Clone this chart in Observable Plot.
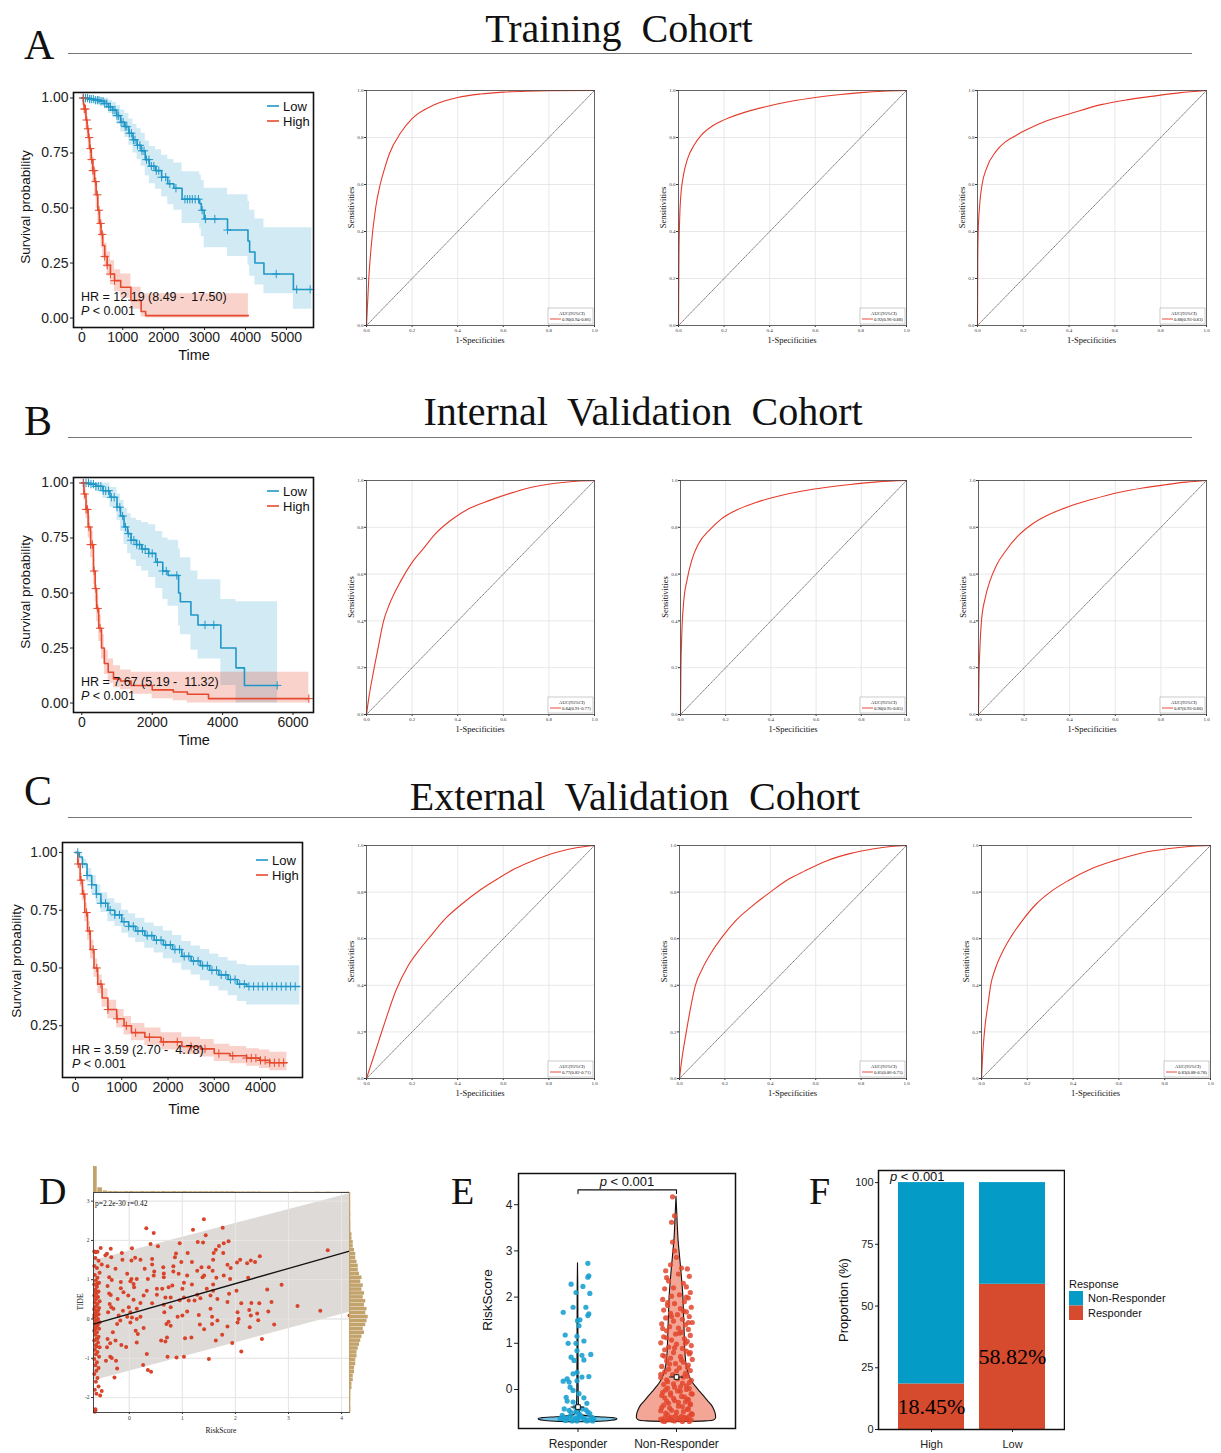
<!DOCTYPE html>
<html><head><meta charset="utf-8">
<script src="https://cdn.jsdelivr.net/npm/d3@7"></script>
<script src="https://cdn.jsdelivr.net/npm/@observablehq/plot@0.6"></script>
<style>
body{margin:0;background:#fff;}
#root{position:relative;width:1221px;height:1453px;overflow:hidden;background:#fff;}
</style></head>
<body><div id="root"></div>
<script>
// ---------------- DATA ----------------
// Kaplan-Meier rows: [time, survival, lower CI, upper CI]
const trainLow = [[0,1,1,1],[150,0.995,0.985,1],[300,0.99,0.975,1],[450,0.985,0.965,1],[550,0.975,0.95,1],[650,0.96,0.93,0.99],[750,0.945,0.91,0.98],[850,0.92,0.88,0.965],[950,0.89,0.845,0.945],[1050,0.87,0.82,0.93],[1150,0.84,0.785,0.905],[1250,0.81,0.75,0.88],[1350,0.785,0.72,0.86],[1450,0.76,0.69,0.84],[1550,0.72,0.645,0.805],[1650,0.69,0.61,0.78],[1800,0.67,0.585,0.765],[1950,0.64,0.55,0.74],[2100,0.61,0.515,0.72],[2250,0.59,0.49,0.705],[2450,0.54,0.43,0.665],[2880,0.52,0.405,0.65],[2920,0.49,0.37,0.625],[2990,0.45,0.32,0.59],[3560,0.40,0.28,0.56],[4060,0.35,0.24,0.53],[4100,0.30,0.19,0.49],[4230,0.25,0.15,0.45],[4450,0.20,0.11,0.41],[5170,0.13,0.04,0.41],[5620,0.13,0.04,0.41]];
const trainHigh = [[0,1,1,1],[40,0.97,0.95,0.99],[60,0.95,0.92,0.98],[100,0.9,0.86,0.94],[130,0.86,0.82,0.91],[160,0.82,0.77,0.87],[190,0.77,0.72,0.82],[230,0.72,0.67,0.77],[270,0.67,0.62,0.73],[310,0.62,0.56,0.68],[350,0.56,0.5,0.62],[390,0.49,0.43,0.55],[430,0.43,0.37,0.49],[470,0.38,0.32,0.44],[510,0.33,0.27,0.39],[560,0.28,0.23,0.34],[620,0.24,0.19,0.30],[700,0.2,0.15,0.26],[800,0.17,0.12,0.22],[950,0.14,0.09,0.2],[1200,0.08,0.04,0.14],[1450,0.03,0.005,0.11],[1560,0.011,0,0.11],[4070,0.011,0,0.11]];
const trainLowCens = [40,90,140,190,230,280,330,380,420,470,520,560,610,660,700,760,810,860,900,960,1010,1060,1100,1160,1210,1260,1300,1360,1420,1470,1520,1580,1640,1700,1760,1820,1880,1950,2050,2150,2300,2520,2580,2640,2700,2770,2850,2940,3020,3250,3560,4750,5250,5580];
const trainHighCens = [30,60,90,120,150,180,210,240,270,300,340,380,420,460,500,560,620,700,800];

const intLow = [[0,1,1,1],[200,0.995,0.985,1],[400,0.985,0.96,1],[600,0.965,0.93,1],[800,0.935,0.89,0.98],[1000,0.89,0.83,0.95],[1100,0.85,0.78,0.92],[1200,0.8,0.72,0.885],[1300,0.77,0.68,0.86],[1400,0.74,0.65,0.84],[1550,0.72,0.62,0.83],[1700,0.7,0.6,0.82],[1900,0.68,0.57,0.81],[2100,0.64,0.52,0.78],[2300,0.6,0.47,0.75],[2450,0.58,0.44,0.74],[2750,0.5,0.35,0.7],[2800,0.46,0.31,0.66],[3100,0.4,0.24,0.6],[3300,0.355,0.2,0.56],[3950,0.25,0.08,0.47],[4380,0.16,0,0.46],[4620,0.08,0,0.46],[5560,0.08,0,0.46]];
const intHigh = [[0,1,1,1],[60,0.95,0.92,0.98],[120,0.88,0.84,0.92],[180,0.8,0.75,0.85],[250,0.72,0.66,0.78],[330,0.6,0.54,0.66],[380,0.52,0.46,0.58],[420,0.43,0.37,0.49],[480,0.34,0.28,0.4],[560,0.25,0.2,0.31],[640,0.18,0.13,0.24],[750,0.14,0.09,0.2],[900,0.11,0.07,0.17],[1100,0.1,0.06,0.15],[1400,0.08,0.04,0.14],[2000,0.06,0.02,0.14],[2600,0.05,0.01,0.14],[3000,0.04,0,0.14],[3600,0.02,0,0.14],[6450,0.02,0,0.14]];
const intLowCens = [50,120,190,260,330,400,470,540,610,680,760,840,920,1000,1080,1160,1240,1320,1400,1480,1560,1640,1720,1800,1900,2000,2150,2300,2400,2700,3500,3750,5550];
const intHighCens = [40,80,120,160,200,250,300,350,400,450,520,6450];

const extLow = [[0,1,1,1],[80,0.98,0.965,0.995],[150,0.95,0.93,0.97],[250,0.9,0.87,0.93],[350,0.86,0.82,0.9],[450,0.82,0.78,0.86],[550,0.78,0.74,0.825],[700,0.75,0.7,0.8],[850,0.73,0.68,0.78],[1000,0.7,0.65,0.75],[1150,0.68,0.63,0.735],[1300,0.66,0.61,0.715],[1500,0.64,0.585,0.695],[1700,0.62,0.565,0.68],[1900,0.6,0.54,0.66],[2100,0.58,0.52,0.64],[2300,0.55,0.49,0.615],[2500,0.53,0.47,0.595],[2700,0.51,0.445,0.58],[2900,0.49,0.42,0.56],[3100,0.47,0.4,0.545],[3300,0.45,0.38,0.53],[3500,0.43,0.355,0.515],[3700,0.42,0.34,0.51],[4850,0.42,0.34,0.51]];
const extHigh = [[0,1,1,1],[50,0.95,0.93,0.97],[100,0.88,0.85,0.91],[150,0.82,0.79,0.85],[200,0.74,0.7,0.78],[260,0.66,0.62,0.7],[320,0.58,0.54,0.62],[400,0.5,0.46,0.54],[480,0.43,0.39,0.47],[575,0.37,0.33,0.41],[700,0.32,0.28,0.36],[890,0.28,0.24,0.32],[1050,0.25,0.21,0.29],[1210,0.22,0.185,0.26],[1500,0.2,0.165,0.24],[1850,0.18,0.145,0.22],[2300,0.16,0.125,0.2],[2700,0.15,0.115,0.19],[3000,0.13,0.095,0.17],[3340,0.12,0.085,0.16],[3700,0.11,0.075,0.15],[3980,0.1,0.065,0.145],[4200,0.09,0.055,0.135],[4570,0.09,0.055,0.135]];
const extLowCens = [50,150,250,350,450,550,650,750,850,950,1050,1150,1250,1350,1450,1550,1650,1750,1850,1950,2050,2150,2250,2350,2450,2550,2650,2750,2850,2950,3050,3150,3250,3350,3450,3550,3650,3750,3850,3950,4050,4150,4250,4350,4450,4550,4650,4750];
const extHighCens = [60,120,180,240,300,380,460,550,700,900,1100,1300,1600,1900,2200,2500,2800,3100,3400,3700,3800,3900,4000,4100,4200,4300,4400,4500];

const hrTexts = ["HR = 12.19 (8.49 -  17.50)", "HR = 7.67 (5.19 -  11.32)", "HR = 3.59 (2.70 -  4.78)"];
const kmTicksY = [0, 0.25, 0.5, 0.75, 1];

// ROC points: [1-specificity, sensitivity]
const rocTrain1 = [[0,0],[0.01,0.2],[0.02,0.33],[0.04,0.5],[0.06,0.6],[0.08,0.67],[0.1,0.73],[0.15,0.82],[0.2,0.88],[0.3,0.94],[0.4,0.97],[0.5,0.985],[0.6,0.993],[0.7,0.997],[0.8,0.999],[1,1]];
const rocTrain2 = [[0,0],[0.002,0.3],[0.005,0.45],[0.01,0.55],[0.02,0.63],[0.04,0.71],[0.07,0.77],[0.1,0.81],[0.15,0.85],[0.2,0.875],[0.3,0.91],[0.4,0.935],[0.5,0.955],[0.6,0.97],[0.7,0.982],[0.8,0.991],[0.9,0.997],[1,1]];
const rocTrain3 = [[0,0],[0.001,0.25],[0.003,0.4],[0.01,0.52],[0.02,0.6],[0.04,0.67],[0.08,0.74],[0.12,0.78],[0.17,0.81],[0.23,0.84],[0.3,0.87],[0.4,0.9],[0.54,0.94],[0.65,0.96],[0.76,0.975],[0.88,0.99],[1,1]];
const rocInt1 = [[0,0],[0.01,0.07],[0.03,0.18],[0.05,0.28],[0.075,0.4],[0.1,0.47],[0.15,0.57],[0.2,0.65],[0.25,0.71],[0.3,0.77],[0.37,0.83],[0.45,0.88],[0.54,0.915],[0.63,0.945],[0.72,0.97],[0.82,0.987],[0.92,0.997],[1,1]];
const rocInt2 = [[0,0],[0.002,0.2],[0.005,0.32],[0.013,0.47],[0.03,0.58],[0.05,0.66],[0.08,0.73],[0.13,0.79],[0.18,0.835],[0.24,0.87],[0.33,0.905],[0.44,0.935],[0.54,0.955],[0.64,0.97],[0.75,0.983],[0.87,0.994],[1,1]];
const rocInt3 = [[0,0],[0.002,0.15],[0.006,0.28],[0.013,0.4],[0.03,0.5],[0.05,0.57],[0.08,0.64],[0.12,0.7],[0.17,0.76],[0.23,0.81],[0.3,0.85],[0.4,0.89],[0.5,0.92],[0.62,0.95],[0.72,0.968],[0.82,0.982],[0.91,0.993],[1,1]];
const rocExt1 = [[0,0],[0.02,0.06],[0.05,0.15],[0.08,0.24],[0.13,0.38],[0.18,0.48],[0.23,0.55],[0.28,0.61],[0.35,0.69],[0.42,0.75],[0.5,0.81],[0.58,0.86],[0.65,0.9],[0.73,0.935],[0.83,0.97],[0.92,0.99],[1,1]];
const rocExt2 = [[0,0],[0.01,0.08],[0.03,0.2],[0.05,0.31],[0.07,0.4],[0.1,0.47],[0.14,0.54],[0.19,0.61],[0.25,0.68],[0.32,0.74],[0.4,0.8],[0.48,0.855],[0.55,0.89],[0.65,0.935],[0.75,0.965],[0.85,0.985],[0.93,0.996],[1,1]];
const rocExt3 = [[0,0],[0.005,0.1],[0.015,0.22],[0.03,0.33],[0.04,0.4],[0.06,0.47],[0.09,0.54],[0.13,0.61],[0.18,0.68],[0.24,0.75],[0.3,0.8],[0.38,0.85],[0.48,0.9],[0.58,0.935],[0.7,0.968],[0.82,0.987],[0.92,0.997],[1,1]];
const rocDiag = [[0,0],[1,1]];
const rocTicks = [0,0.2,0.4,0.6,0.8,1];
const aucTrain = ["0.90(0.94-0.86)","0.92(0.96-0.88)","0.88(0.93-0.83)"];
const aucInt = ["0.84(0.91-0.77)","0.90(0.95-0.85)","0.87(0.93-0.80)"];
const aucExt = ["0.77(0.82-0.71)","0.81(0.86-0.75)","0.83(0.88-0.78)"];

// Panel D: [RiskScore, TIDE]
const tideCluster = [[-0.66,1.72],[-0.63,1.7],[-0.6,1.71],[-0.64,1.55],[-0.58,1.48],[-0.66,1.35],[-0.61,1.3],[-0.56,1.18],[-0.65,1.12],[-0.6,1.05],[-0.63,0.98],[-0.57,0.92],[-0.66,0.88],[-0.61,0.82],[-0.64,0.75],[-0.58,0.7],[-0.62,0.65],[-0.66,0.6],[-0.59,0.56],[-0.63,0.5],[-0.56,0.45],[-0.65,0.42],[-0.6,0.38],[-0.63,0.32],[-0.57,0.28],[-0.66,0.24],[-0.61,0.2],[-0.64,0.15],[-0.58,0.12],[-0.62,0.08],[-0.66,0.04],[-0.59,0.0],[-0.63,-0.04],[-0.56,-0.08],[-0.65,-0.12],[-0.6,-0.16],[-0.63,-0.2],[-0.57,-0.25],[-0.66,-0.3],[-0.61,-0.34],[-0.64,-0.4],[-0.58,-0.45],[-0.62,-0.5],[-0.66,-0.55],[-0.59,-0.6],[-0.63,-0.66],[-0.56,-0.72],[-0.65,-0.78],[-0.6,-0.84],[-0.63,-0.9],[-0.57,-0.96],[-0.66,-1.02],[-0.61,-1.1],[-0.64,-1.18],[-0.58,-1.25],[-0.62,-1.32],[-0.66,-1.4],[-0.6,-1.5],[-0.63,-1.6],[-0.58,-1.72],[-0.65,-1.8],[-0.62,-1.9],[-0.55,-1.95],[-0.64,-2.32],[-0.62,0.55],[-0.65,0.3],[-0.59,0.22],[-0.64,-0.25],[-0.6,-0.5],[-0.58,-0.1],[-0.66,0.1],[-0.62,-0.7],[-0.64,0.7],[-0.6,0.9]];
const tideScatter = [[1.405,2.54],[1.76,2.32],[1.2,2.27],[0.32,2.31],[0.46,2.19],[1.44,2.13],[1.87,1.98],[1.78,1.93],[1.29,1.96],[1.39,1.95],[0.95,1.93],[0.4,1.91],[0.54,1.85],[0.05,1.8],[-0.35,1.79],[-0.54,1.81],[1.69,1.86],[1.63,1.76],[3.74,1.75],[1.59,1.68],[1.1,1.68],[0.88,1.67],[0.86,1.57],[1.77,1.68],[-0.14,1.68],[0.11,1.56],[2.46,1.6],[2.29,1.49],[2.09,1.51],[0.43,1.53],[0.04,1.49],[-0.34,1.57],[-0.45,1.62],[-0.13,1.51],[0.21,1.51],[1.58,1.51],[2.37,1.45],[2.22,1.42],[2.03,1.44],[1.18,1.45],[0.98,1.45],[0.43,1.39],[0.64,1.32],[0.83,1.34],[1.36,1.32],[1.5,1.32],[1.85,1.38],[1.91,1.3],[-0.41,1.34],[-0.52,1.39],[0.29,1.28],[-0.26,1.28],[1.28,1.23],[1.57,1.23],[0.47,1.21],[0.65,1.16],[0.83,1.21],[-0.04,1.15],[0.93,1.15],[1.41,1.11],[1.78,1.11],[0.46,1.11],[0.65,1.06],[1.09,1.11],[1.38,1.06],[1.64,1.05],[1.9,1.02],[2.24,1.05],[-0.38,1.06],[0.04,1.02],[0.14,1.02],[0.35,1.02],[-0.33,0.99],[-0.16,0.94],[0.02,0.96],[0.08,0.89],[1.03,0.92],[1.18,0.88],[1.58,0.88],[2.87,0.87],[-0.41,0.84],[-0.16,0.78],[0.09,0.81],[0.52,0.77],[0.62,0.77],[0.74,0.81],[0.81,0.85],[1.0,0.77],[1.46,0.77],[1.58,0.72],[2.02,0.72],[2.6,0.75],[0.33,0.72],[-0.11,0.68],[-0.02,0.6],[0.27,0.6],[0.52,0.62],[0.68,0.55],[0.78,0.55],[1.03,0.55],[1.28,0.62],[1.53,0.6],[1.88,0.64],[1.66,0.51],[-0.35,0.61],[-0.22,0.51],[0.08,0.49],[0.95,0.48],[1.12,0.47],[1.23,0.47],[1.34,0.53],[1.85,0.43],[2.11,0.4],[2.3,0.41],[2.45,0.4],[2.68,0.43],[3.17,0.33],[3.6,0.21],[4.15,0.09],[0.21,0.41],[0.43,0.4],[0.65,0.36],[-0.01,0.3],[0.14,0.26],[0.78,0.3],[-0.3,0.26],[-0.12,0.21],[0.02,0.17],[0.66,0.17],[1.09,0.19],[1.53,0.26],[2.26,0.23],[2.62,0.19],[2.04,0.17],[2.29,0.09],[2.41,0.14],[-0.2,0.09],[-0.04,0.06],[0.05,0.04],[0.21,0.06],[0.91,0.06],[1.0,0.09],[1.31,0.1],[1.56,0.06],[2.06,0.0],[2.43,-0.03],[2.04,-0.09],[1.66,-0.04],[0.74,-0.07],[0.14,0.0],[-0.17,-0.04],[0.02,-0.09],[0.7,-0.13],[0.78,-0.17],[1.33,-0.14],[1.56,-0.13],[2.73,-0.14],[-0.23,-0.13],[1.85,-0.19],[2.27,-0.21],[0.27,-0.23],[0.12,-0.3],[-0.31,-0.34],[1.75,-0.4],[1.17,-0.47],[1.05,-0.49],[0.16,-0.38],[0.71,-0.47],[1.41,-0.26],[-0.41,-0.51],[2.5,-0.51],[-0.26,-0.55],[0.6,-0.55],[0.68,-0.57],[0.14,-0.6],[1.63,-0.55],[1.94,-0.61],[-0.15,-0.66],[-0.36,-0.62],[-0.06,-0.71],[2.11,-0.83],[0.33,-0.89],[-0.36,-0.96],[-0.33,-0.99],[0.72,-0.96],[0.89,-0.98],[1.03,-0.96],[1.5,-1.02],[0.26,-1.17],[0.35,-1.3],[0.41,-1.34],[-0.23,-1.26],[-0.28,-1.49],[-0.52,-1.83],[-0.64,-2.3],[-0.65,-2.36],[-0.42,-0.72],[-0.44,-1.06],[-0.25,-1.06],[-0.4,0.17],[-0.37,0.38],[-0.34,0.3],[-0.38,0.65],[-0.42,1.66]];
const tideFit = [[-0.675,-0.13],[4.15,1.73]];          // regression line ends
const tideBand = [[-0.675,-1.57,1.49],[4.15,0.17,3.19]]; // [x, lower, upper]
const riskHist = [[-0.7,100],[-0.6,18],[-0.5,6],[-0.4,4],[-0.3,4],[-0.2,3],[-0.1,4],[0,4],[0.1,3],[0.2,4],[0.3,3],[0.4,4],[0.5,3],[0.6,4],[0.7,3],[0.8,4],[0.9,3],[1.0,4],[1.1,3],[1.2,3],[1.3,3],[1.4,3],[1.5,3],[1.6,3],[1.7,3],[1.8,3],[1.9,3],[2.0,2],[2.1,2],[2.2,2],[2.3,2],[2.4,2],[2.5,1],[2.6,1],[2.7,1],[2.8,1],[2.9,1],[3.1,1],[3.5,1],[3.7,1],[4.1,1]];
const tideHist = [[-2.4,1],[-2.3,1],[-2.1,1],[-2.0,1],[-1.9,1],[-1.8,2],[-1.7,2],[-1.6,3],[-1.5,3],[-1.4,4],[-1.3,4],[-1.2,5],[-1.1,5],[-1.0,6],[-0.9,6],[-0.8,7],[-0.7,8],[-0.6,9],[-0.5,10],[-0.4,12],[-0.3,11],[-0.2,13],[-0.1,14],[0.0,15],[0.1,13],[0.2,14],[0.3,12],[0.4,13],[0.5,11],[0.6,12],[0.7,10],[0.8,11],[0.9,9],[1.0,10],[1.1,8],[1.2,7],[1.3,7],[1.4,6],[1.5,5],[1.6,5],[1.7,4],[1.8,3],[1.9,3],[2.0,2],[2.1,2],[2.2,1],[2.3,1],[2.4,1],[2.6,1]];

// Panel E
const groupsE = ["Responder","Non-Responder"];
const violinResp = [[-0.71,0],[-0.70,0.18],[-0.68,0.33],[-0.66,0.39],[-0.64,0.40],[-0.62,0.36],[-0.60,0.22],[-0.58,0.1],[-0.55,0.04],[-0.5,0.02],[-0.4,0.012],[-0.2,0.008],[0.2,0.006],[0.8,0.005],[1.5,0.004],[2.2,0.003],[2.73,0]];
const violinNon = [[-0.70,0],[-0.69,0.30],[-0.67,0.38],[-0.63,0.40],[-0.55,0.40],[-0.45,0.385],[-0.35,0.36],[-0.25,0.32],[-0.15,0.28],[-0.05,0.24],[0.05,0.2],[0.15,0.165],[0.3,0.13],[0.5,0.105],[0.8,0.09],[1.1,0.085],[1.4,0.08],[1.7,0.075],[2.0,0.07],[2.3,0.06],[2.6,0.048],[2.9,0.035],[3.2,0.022],[3.5,0.014],[3.8,0.008],[4.17,0]];
const pointsResp = [[0.10,2.73],[0.11,2.46],[0.10,2.43],[-0.07,2.28],[0.05,2.23],[0.12,2.08],[-0.02,2.10],[-0.15,1.67],[-0.05,1.78],[0.08,1.78],[0.11,1.64],[0.02,1.51],[0.10,1.60],[-0.005,1.49],[0.01,1.38],[-0.13,1.18],[-0.01,1.15],[-0.10,1.00],[0.06,1.05],[-0.02,1.00],[-0.01,0.84],[-0.07,0.70],[0.04,0.74],[0.06,0.64],[0.13,0.76],[-0.04,0.63],[-0.01,0.37],[-0.05,0.34],[-0.15,0.18],[-0.11,0.23],[-0.09,0.16],[0.04,0.27],[0.11,0.28],[-0.01,0.19],[-0.08,0.05],[-0.05,-0.02],[0.01,-0.09],[0.06,-0.18],[-0.12,-0.17],[-0.11,-0.25],[-0.05,-0.27],[0.09,-0.30],[-0.03,-0.38],[0.04,-0.42],[-0.14,-0.42],[-0.07,-0.50],[0.01,-0.53],[0.10,-0.49],[-0.16,-0.56],[-0.11,-0.63],[-0.03,-0.63],[0.06,-0.63],[0.14,-0.60],[-0.13,-0.67],[-0.01,-0.68],[0.09,-0.68],[-0.08,-0.58],[0.03,-0.58],[-0.18,-0.63],[0.16,-0.63],[-0.12,-0.66],[0.0,-0.62],[0.12,-0.66],[-0.06,-0.68],[0.07,-0.65],[-0.15,-0.6],[0.15,-0.68],[0.02,-0.55],[-0.09,-0.45],[0.08,-0.44],[-0.02,-0.48],[0.12,-0.52]];
const pointsNon = [[-0.04,4.17],[-0.02,3.76],[-0.05,3.62],[-0.04,3.19],[-0.02,3.0],[0.0,2.86],[-0.06,2.7],[0.05,2.63],[0.11,2.61],[-0.11,2.57],[0.02,2.5],[0.13,2.45],[-0.1,2.42],[-0.08,2.35],[0.07,2.3],[0.1,2.22],[-0.12,2.18],[0.14,2.1],[0.03,2.05],[-0.05,2.02],[0.12,1.98],[-0.14,1.95],[0.08,1.9],[-0.02,1.86],[-0.09,1.82],[0.15,1.78],[0.04,1.75],[-0.13,1.72],[0.1,1.68],[-0.06,1.65],[0.01,1.62],[0.13,1.58],[-0.11,1.55],[0.06,1.52],[-0.03,1.48],[0.16,1.45],[-0.15,1.42],[0.09,1.4],[-0.07,1.36],[0.02,1.33],[0.12,1.3],[-0.1,1.27],[0.05,1.24],[-0.01,1.2],[0.14,1.17],[-0.13,1.14],[0.08,1.1],[-0.05,1.07],[0.11,1.04],[-0.16,1.01],[0.0,0.98],[0.15,0.95],[-0.08,0.92],[0.06,0.89],[-0.12,0.86],[0.1,0.83],[-0.03,0.8],[0.13,0.77],[-0.14,0.74],[0.04,0.71],[-0.06,0.68],[0.16,0.65],[-0.1,0.62],[0.07,0.59],[-0.01,0.56],[0.12,0.53],[-0.15,0.5],[0.03,0.47],[-0.08,0.44],[0.14,0.41],[-0.12,0.38],[0.09,0.35],[-0.04,0.32],[0.11,0.29],[-0.16,0.26],[0.01,0.23],[0.15,0.2],[-0.09,0.17],[0.06,0.14],[-0.13,0.11],[0.1,0.08],[-0.02,0.05],[0.13,0.02],[-0.11,-0.01],[0.04,-0.04],[-0.06,-0.07],[0.16,-0.1],[-0.15,-0.13],[0.08,-0.16],[-0.03,-0.19],[0.12,-0.22],[-0.1,-0.25],[0.02,-0.28],[0.14,-0.31],[-0.13,-0.34],[0.06,-0.37],[-0.07,-0.4],[0.11,-0.43],[-0.16,-0.46],[0.0,-0.49],[0.15,-0.52],[-0.09,-0.55],[0.05,-0.58],[-0.12,-0.61],[0.1,-0.64],[-0.04,-0.67],[0.13,-0.69],[-0.14,-0.68],[0.03,-0.66],[-0.07,-0.63],[0.08,-0.6],[-0.01,-0.57],[0.16,-0.54],[-0.11,-0.51],[0.07,-0.48],[-0.05,-0.45],[0.12,-0.42],[-0.15,-0.39],[0.02,-0.36],[0.14,-0.33],[-0.08,-0.3],[0.09,-0.27],[-0.02,-0.24],[0.11,-0.21],[-0.12,-0.18],[0.05,-0.15],[-0.06,-0.12],[0.15,-0.09],[-0.14,-0.06],[0.01,-0.03],[0.1,0.0],[-0.09,0.03],[0.04,0.06],[-0.03,0.12],[0.13,0.15],[-0.1,0.21],[0.07,0.27],[-0.16,0.33],[0.0,0.4],[0.11,0.48],[-0.07,0.55],[0.05,0.64],[-0.12,0.72],[0.14,0.8],[-0.02,0.9],[0.09,1.0],[-0.1,1.12],[0.03,1.22],[-0.14,1.32],[0.12,1.45],[-0.05,1.58],[0.07,1.7],[-0.09,1.88],[0.1,2.0],[-0.03,2.2],[-0.12,-0.69],[0.06,-0.69],[-0.02,-0.68],[0.15,-0.66],[-0.08,-0.66],[0.1,-0.62],[-0.16,-0.64],[0.02,-0.62],[-0.05,-0.6],[0.13,-0.58]];
const meanE = [-0.38, 0.27];
const semE = [0.04, 0.05];

// Panel F
const groupsF = ["High","Low"];
const responderPct = [18.45, 58.82];

// ---------------- STYLE ----------------
const SANS = '"Liberation Sans", Arial, sans-serif';
const SERIF = '"Liberation Serif", "Times New Roman", serif';
const NARROW = '"Liberation Sans Narrow", "Liberation Sans", Arial, sans-serif';
const KM_BLUE = "#1F97C7", KM_RED = "#E64A2E", ROC_RED = "#E53B2B";
const E_BLUE = "#1BA1D2", E_RED = "#E2462D";
const F_BLUE = "#049BC6", F_RED = "#D64A2E";
const TAN = "#C2A36B";
const intFmt = d => String(d);

const root = document.getElementById("root");
function put(node, left, top) {
  node.style.position = "absolute"; node.style.left = left + "px"; node.style.top = top + "px";
  root.appendChild(node); return node;
}
const ov = d3.create("svg").attr("width", 1221).attr("height", 1453)
  .style("position","absolute").style("left","0px").style("top","0px").style("z-index","10").style("overflow","visible");
root.appendChild(ov.node());
function T(x, y, parts, o = {}) {
  const t = ov.append("text").attr("x", x).attr("y", y)
    .attr("font-family", o.family || SANS).attr("font-size", o.size || 13)
    .attr("text-anchor", o.anchor || "start").attr("fill", o.fill || "#111")
    .style("white-space", "pre");
  if (!o.alpha) t.attr("dominant-baseline", "central");
  if (o.rotate) t.attr("transform", `rotate(${o.rotate},${x},${y})`);
  if (typeof parts === "string") parts = [[parts, false]];
  for (const [s, it] of parts) {
    const sp = t.append("tspan").text(s);
    if (it) sp.attr("font-style", "italic");
  }
  return t;
}
function L(x1, y1, x2, y2, stroke, w = 1) {
  ov.append("line").attr("x1", x1).attr("y1", y1).attr("x2", x2).attr("y2", y2).attr("stroke", stroke).attr("stroke-width", w);
}

// ---------------- TITLES ----------------
T(619, 42, "Training  Cohort", {family: SERIF, size: 40, anchor: "middle", alpha: true});
T(643, 425, "Internal  Validation  Cohort", {family: SERIF, size: 40, anchor: "middle", alpha: true});
T(635, 810, "External  Validation  Cohort", {family: SERIF, size: 40, anchor: "middle", alpha: true});
L(68, 53.5, 1192, 53.5, "#777");
L(68, 437.5, 1192, 437.5, "#777");
L(68, 817.5, 1192, 817.5, "#777");
T(24, 59, "A", {family: SERIF, size: 42, alpha: true});
T(24, 435, "B", {family: SERIF, size: 42, alpha: true});
T(24, 805, "C", {family: SERIF, size: 42, alpha: true});
T(39, 1204, "D", {family: SERIF, size: 38, alpha: true});
T(451, 1204, "E", {family: SERIF, size: 38, alpha: true});
T(809, 1204, "F", {family: SERIF, size: 38, alpha: true});

// ---------------- KM ----------------
function survAt(curve, t) { let s = 1; for (const d of curve) if (d[0] <= t) s = d[1]; return s; }
function km({box, frame, xDomain, xTicks, yDomain, low, high, lowCens, highCens}) {
  const [Lx, Ty, W, H] = box, [fl, ft, fr, fb] = frame;
  const svg = Plot.plot({
    width: W, height: H, marginLeft: fl - Lx, marginTop: ft - Ty, marginRight: Lx + W - fr, marginBottom: Ty + H - fb,
    style: {fontFamily: SANS, fontSize: "14px", color: "#222", background: "transparent", overflow: "visible"},
    x: {domain: xDomain, ticks: xTicks, tickSize: 3, tickPadding: 2, label: null, tickFormat: intFmt},
    y: {domain: yDomain, ticks: kmTicksY.filter(v => v >= yDomain[0]), tickSize: 3, tickPadding: 2, label: null, tickFormat: d3.format(".2f")},
    marks: [
      Plot.areaY(low, {x: d => d[0], y1: d => d[2], y2: d => d[3], curve: "step-after", fill: KM_BLUE, fillOpacity: 0.2}),
      Plot.areaY(high, {x: d => d[0], y1: d => d[2], y2: d => d[3], curve: "step-after", fill: KM_RED, fillOpacity: 0.25}),
      Plot.lineY(low, {x: d => d[0], y: d => d[1], curve: "step-after", stroke: KM_BLUE, strokeWidth: 1.6}),
      Plot.lineY(high, {x: d => d[0], y: d => d[1], curve: "step-after", stroke: KM_RED, strokeWidth: 1.6}),
      Plot.dot(lowCens, {x: t => t, y: t => survAt(low, t), symbol: "plus", r: 2.8, stroke: KM_BLUE, strokeWidth: 1}),
      Plot.dot(highCens, {x: t => t, y: t => survAt(high, t), symbol: "plus", r: 2.8, stroke: KM_RED, strokeWidth: 1}),
      Plot.frame({stroke: "#111", strokeWidth: 1.6})
    ]
  });
  put(svg, Lx, Ty);
}
km({box: [0, 80, 330, 290], frame: [73, 92, 313, 327], xDomain: [-203, 5661], xTicks: [0,1000,2000,3000,4000,5000], yDomain: [-0.043, 1.025], low: trainLow, high: trainHigh, lowCens: trainLowCens, highCens: trainHighCens});
km({box: [0, 465, 330, 290], frame: [73, 477, 313, 712], xDomain: [-236, 6582], xTicks: [0,2000,4000,6000], yDomain: [-0.043, 1.025], low: intLow, high: intHigh, lowCens: intLowCens, highCens: intHighCens});
km({box: [0, 830, 320, 290], frame: [62, 842, 302, 1077], xDomain: [-281, 4908], xTicks: [0,1000,2000,3000,4000], yDomain: [0.026, 1.043], low: extLow, high: extHigh, lowCens: extLowCens, highCens: extHighCens});

function kmLabels(dy, yLabX, timeX, legX, hrX, hrY, hr) {
  T(yLabX, 207 + dy, "Survival probability", {rotate: -90, anchor: "middle", size: 13.5});
  T(timeX, 355 + dy, "Time", {anchor: "middle", size: 14.5});
  L(legX, 106 + dy, legX + 12, 106 + dy, KM_BLUE, 1.6);
  L(legX, 121 + dy, legX + 12, 121 + dy, KM_RED, 1.6);
  T(legX + 16, 106 + dy, "Low", {size: 13});
  T(legX + 16, 121 + dy, "High", {size: 13});
  T(hrX, hrY, hr, {size: 12.5});
  T(hrX, hrY + 14, [["P", true], [" < 0.001", false]], {size: 12.5});
}
kmLabels(0, 25, 194, 267, 81, 297, hrTexts[0]);
kmLabels(385, 25, 194, 267, 81, 682, hrTexts[1]);
kmLabels(754, 16, 184, 256, 72, 1050, hrTexts[2]);

// ---------------- ROC ----------------
function roc(fl, ft, fr, fb, pts, auc) {
  const ml = 12, mt = 3, mr = 4, mb = 10;
  const svg = Plot.plot({
    width: fr - fl + ml + mr, height: fb - ft + mt + mb, marginLeft: ml, marginTop: mt, marginRight: mr, marginBottom: mb,
    style: {fontFamily: SERIF, fontSize: "5px", color: "#333", background: "transparent"},
    x: {domain: [0, 1], ticks: rocTicks, tickFormat: d3.format(".1f"), tickSize: 2, tickPadding: 1, label: null},
    y: {domain: [0, 1], ticks: rocTicks, tickFormat: d3.format(".1f"), tickSize: 2, tickPadding: 1, label: null},
    marks: [
      Plot.ruleX(rocTicks, {stroke: "#e2e2e2", strokeWidth: 0.8}),
      Plot.ruleY(rocTicks, {stroke: "#e2e2e2", strokeWidth: 0.8}),
      Plot.line(rocDiag, {x: d => d[0], y: d => d[1], stroke: "#222", strokeWidth: 0.6, strokeDasharray: "1,1.2"}),
      Plot.line(pts, {x: d => d[0], y: d => d[1], stroke: ROC_RED, strokeWidth: 1.1, curve: "monotone-x"}),
      Plot.frame({stroke: "#444", strokeWidth: 0.8})
    ]
  });
  put(svg, fl - ml, ft - mt);
  T(fl - 15, (ft + fb) / 2, "Sensitivities", {family: SERIF, size: 8.5, rotate: -90, anchor: "middle"});
  T((fl + fr) / 2, fb + 15, "1-Specificities", {family: SERIF, size: 8.5, anchor: "middle"});
  ov.append("rect").attr("x", fr - 46).attr("y", fb - 17).attr("width", 45).attr("height", 16)
    .attr("fill", "#fff").attr("stroke", "#999").attr("stroke-width", 0.5);
  T(fr - 22, fb - 12, "AUC(95%CI)", {family: SERIF, size: 4.6, anchor: "middle"});
  L(fr - 44, fb - 6, fr - 33, fb - 6, ROC_RED, 0.9);
  T(fr - 32, fb - 6, auc, {family: SERIF, size: 4.6});
}
roc(366, 90, 594, 325, rocTrain1, aucTrain[0]);
roc(678, 90, 906, 325, rocTrain2, aucTrain[1]);
roc(977, 90, 1206, 325, rocTrain3, aucTrain[2]);
roc(366, 480, 594, 714, rocInt1, aucInt[0]);
roc(680, 480, 906, 714, rocInt2, aucInt[1]);
roc(978, 480, 1206, 714, rocInt3, aucInt[2]);
roc(366, 845, 594, 1078, rocExt1, aucExt[0]);
roc(679, 845, 906, 1078, rocExt2, aucExt[1]);
roc(981, 845, 1210, 1078, rocExt3, aucExt[2]);

// ---------------- D ----------------
const dX = [-0.675, 4.15], dY = [-2.38, 3.22];
put(Plot.plot({
  width: 280, height: 236, marginLeft: 23, marginTop: 2, marginRight: 1, marginBottom: 14,
  style: {fontFamily: SERIF, fontSize: "5.5px", color: "#333", background: "transparent"},
  x: {domain: dX, ticks: [0,1,2,3,4], tickSize: 2, tickPadding: 2, label: null, tickFormat: intFmt},
  y: {domain: dY, ticks: [-2,-1,0,1,2,3], tickSize: 2, tickPadding: 2, label: null, tickFormat: intFmt},
  marks: [
    Plot.ruleX([0,1,2,3,4], {stroke: "#dcdcdc", strokeWidth: 0.8}),
    Plot.ruleY([-2,-1,0,1,2,3], {stroke: "#dcdcdc", strokeWidth: 0.8}),
    Plot.areaY(tideBand, {x: d => d[0], y1: d => d[1], y2: d => d[2], fill: "#d3cdca", fillOpacity: 0.75}),
    Plot.ruleX([0,1,2,3,4], {stroke: "#ebe8e7", strokeWidth: 0.8}),
    Plot.ruleY([-2,-1,0,1,2,3], {stroke: "#ebe8e7", strokeWidth: 0.8}),
    Plot.dot(tideCluster, {x: d => d[0], y: d => d[1], r: 2, fill: "#D8432A"}),
    Plot.dot(tideScatter, {x: d => d[0], y: d => d[1], r: 2, fill: "#D8432A"}),
    Plot.line(tideFit, {x: d => d[0], y: d => d[1], stroke: "#111", strokeWidth: 1.3}),
    Plot.frame({stroke: "#333", strokeWidth: 0.9})
  ]
}), 70, 1190);
put(Plot.plot({
  width: 256, height: 26, margin: 0, style: {background: "transparent"},
  x: {domain: dX, axis: null}, y: {domain: [0, 100], axis: null},
  marks: [
    Plot.rectY(riskHist, {x1: d => d[0], x2: d => d[0] + 0.1, y1: 0, y2: d => d[1], fill: TAN, insetLeft: 0.3, insetRight: 0.3}),
    Plot.ruleY([0], {stroke: TAN, strokeWidth: 1.5})
  ]
}), 93, 1166);
put(Plot.plot({
  width: 20, height: 220, margin: 0, style: {background: "transparent"},
  x: {domain: [0, 16], axis: null}, y: {domain: dY, axis: null},
  marks: [
    Plot.rectX(tideHist, {y1: d => d[0], y2: d => d[0] + 0.1, x1: 0, x2: d => d[1], fill: TAN, insetTop: 0.2, insetBottom: 0.2}),
    Plot.ruleX([0], {stroke: TAN, strokeWidth: 1.5})
  ]
}), 349, 1192);
T(95, 1203, "p=2.2e-30 r=0.42", {family: SERIF, size: 7.5});
T(80, 1302, "TIDE", {family: SERIF, size: 7.5, rotate: -90, anchor: "middle"});
T(221, 1430, "RiskScore", {family: SERIF, size: 7.5, anchor: "middle"});

// ---------------- E ----------------
put(Plot.plot({
  width: 247, height: 290, marginLeft: 28, marginTop: 5, marginRight: 2, marginBottom: 30,
  style: {fontFamily: NARROW, fontSize: "12px", color: "#222", background: "transparent"},
  x: {domain: [-0.604, 1.599], ticks: [0, 1], tickFormat: i => groupsE[i], tickSize: 4, tickPadding: 7, label: null},
  y: {domain: [-0.844, 4.675], ticks: [0,1,2,3,4], tickSize: 4, tickPadding: 2, label: null, tickFormat: intFmt},
  marks: [
    Plot.areaX(violinResp, {y: d => d[0], x1: d => 0 - d[1], x2: d => 0 + d[1], fill: "#3AAEDB", fillOpacity: 0.7, stroke: "#111", strokeWidth: 1.1, curve: "catmull-rom"}),
    Plot.areaX(violinNon, {y: d => d[0], x1: d => 1 - d[1], x2: d => 1 + d[1], fill: "#F3A190", fillOpacity: 0.95, stroke: "#111", strokeWidth: 1.1, curve: "catmull-rom"}),
    Plot.dot(pointsResp, {x: d => 0 + d[0], y: d => d[1], r: 2.6, fill: E_BLUE, fillOpacity: 0.9}),
    Plot.dot(pointsNon, {x: d => 1 + d[0], y: d => d[1], r: 2.6, fill: E_RED, fillOpacity: 0.85}),
    Plot.ruleX([0, 1], {x: i => i, y1: i => meanE[i] - semE[i], y2: i => meanE[i] + semE[i], stroke: "#111", strokeWidth: 1}),
    Plot.ruleY([0, 1], {y: i => meanE[i], x1: i => i - 0.07, x2: i => i + 0.07, stroke: "#111", strokeWidth: 1}),
    Plot.dot([0, 1], {x: i => i, y: i => meanE[i], r: 2.6, fill: "#fff", stroke: "#111", strokeWidth: 1, symbol: "square"}),
    Plot.line([[0, 4.24], [0, 4.32], [1, 4.32], [1, 4.24]], {x: d => d[0], y: d => d[1], stroke: "#111", strokeWidth: 1.1}),
    Plot.frame({stroke: "#111", strokeWidth: 1.5})
  ]
}), 490, 1168);
T(487, 1300, "RiskScore", {size: 13.5, rotate: -90, anchor: "middle", family: SANS});
T(627, 1181, [["p", true], [" < 0.001", false]], {size: 13, anchor: "middle", family: NARROW});

// ---------------- F ----------------
const fRows = groupsF.flatMap((g, i) => [
  {group: g, response: "Responder", value: responderPct[i]},
  {group: g, response: "Non-Responder", value: 100 - responderPct[i]}
]);
put(Plot.plot({
  width: 215, height: 289, marginLeft: 28, marginTop: 5, marginRight: 1, marginBottom: 25,
  style: {fontFamily: NARROW, fontSize: "11px", color: "#222", background: "transparent"},
  x: {domain: groupsF, paddingInner: 0.19, paddingOuter: 0.24, tickSize: 3, tickPadding: 8, label: null},
  y: {domain: [0, 104.9], ticks: [0,25,50,75,100], tickSize: 3, tickPadding: 2, label: null, tickFormat: intFmt},
  color: {domain: ["Non-Responder", "Responder"], range: [F_BLUE, F_RED]},
  marks: [
    Plot.barY(fRows, {x: "group", y: "value", fill: "response"}),
    Plot.text(fRows.filter(d => d.response === "Responder"), {x: "group", y: d => d.value / 2, text: d => d.value.toFixed(2) + "%", fontSize: 22, fontFamily: SERIF, fill: "#000"}),
    Plot.frame({stroke: "#111", strokeWidth: 1.5})
  ]
}), 850, 1165);
T(843, 1300, "Proportion (%)", {size: 13, rotate: -90, anchor: "middle", family: NARROW});
T(890, 1176, [["p", true], [" < 0.001", false]], {size: 13, family: NARROW});
T(1069, 1284, "Response", {size: 11, family: NARROW});
ov.append("rect").attr("x", 1069).attr("y", 1291).attr("width", 14).attr("height", 14.5).attr("fill", F_BLUE);
ov.append("rect").attr("x", 1069).attr("y", 1305.5).attr("width", 14).attr("height", 14.5).attr("fill", F_RED);
T(1088, 1298, "Non-Responder", {size: 11, family: NARROW});
T(1088, 1313, "Responder", {size: 11, family: NARROW});
</script>
</body></html>
